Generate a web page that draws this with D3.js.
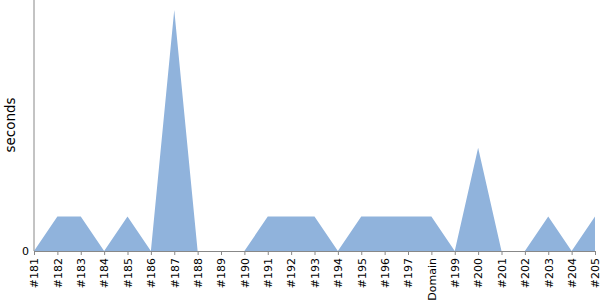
<!DOCTYPE html>
<html>
<head>
<meta charset="utf-8">
<script src="https://cdn.jsdelivr.net/npm/d3@7"></script>
<style>
  body { margin: 0; background: #fff; }
  svg { display: block; font-family: "DejaVu Sans", sans-serif; }
</style>
</head>
<body>
<svg id="chart"></svg>
<script>
// build labels
const categories = ["#181", "#182", "#183", "#184", "#185", "#186", "#187", "#188", "#189", "#190",
    "#191", "#192", "#193", "#194", "#195", "#196", "#197", "Domain", "#199", "#200",
    "#201", "#202", "#203", "#204", "#205"];
// seconds per build
const seconds = [0, 1, 1, 0, 1, 0, 7, 0, 0, 0,
    1, 1, 1, 0, 1, 1, 1, 1, 0, 3,
    0, 0, 1, 0, 1];
const yTicks = [0];

const margin = { top: 10, right: 5, bottom: 49, left: 34 };
const width = 600 - margin.left - margin.right;
const height = 300 - margin.top - margin.bottom;

const svg = d3.select("#chart")
    .attr("width", 600)
    .attr("height", 300);

const g = svg.append("g")
    .attr("transform", "translate(" + margin.left + "," + margin.top + ")");

const x = d3.scalePoint()
    .domain(categories)
    .range([0, width]);

const y = d3.scaleLinear()
    .domain([0, 7])
    .range([height, 0]);

const data = categories.map((c, i) => ({ cat: c, v: seconds[i] }));

const area = d3.area()
    .x(d => x(d.cat))
    .y0(height)
    .y1(d => y(d.v));

g.append("path")
    .datum(data)
    .attr("fill", "#90b3dc")
    .attr("d", area);

// x axis
const xAxis = g.append("g")
    .attr("transform", "translate(0," + height + ")")
    .call(d3.axisBottom(x).tickSize(4).tickSizeOuter(0));
xAxis.select(".domain").attr("stroke", "#888");
xAxis.selectAll(".tick line").attr("stroke", "#888");
xAxis.selectAll("text")
    .attr("transform", "rotate(-90)")
    .attr("x", -7)
    .attr("y", 0)
    .attr("dy", "0.35em")
    .style("text-anchor", "end")
    .style("font-size", "11px")
    .style("font-family", "DejaVu Sans")
    .attr("fill", "#000");

// y axis
const yAxis = g.append("g")
    .call(d3.axisLeft(y).tickValues(yTicks).tickFormat(d3.format("d")).tickSize(0).tickPadding(5));
yAxis.select(".domain").attr("stroke", "#888").attr("d", "M0," + (-margin.top) + "V" + height);
yAxis.selectAll("text")
    .style("font-size", "11px")
    .style("font-family", "DejaVu Sans")
    .attr("fill", "#000");

g.append("text")
    .attr("transform", "rotate(-90)")
    .attr("x", -115)
    .attr("y", -19)
    .style("text-anchor", "middle")
    .style("font-size", "13.5px")
    .style("font-family", "DejaVu Sans")
    .text("seconds");
</script>
</body>
</html>
